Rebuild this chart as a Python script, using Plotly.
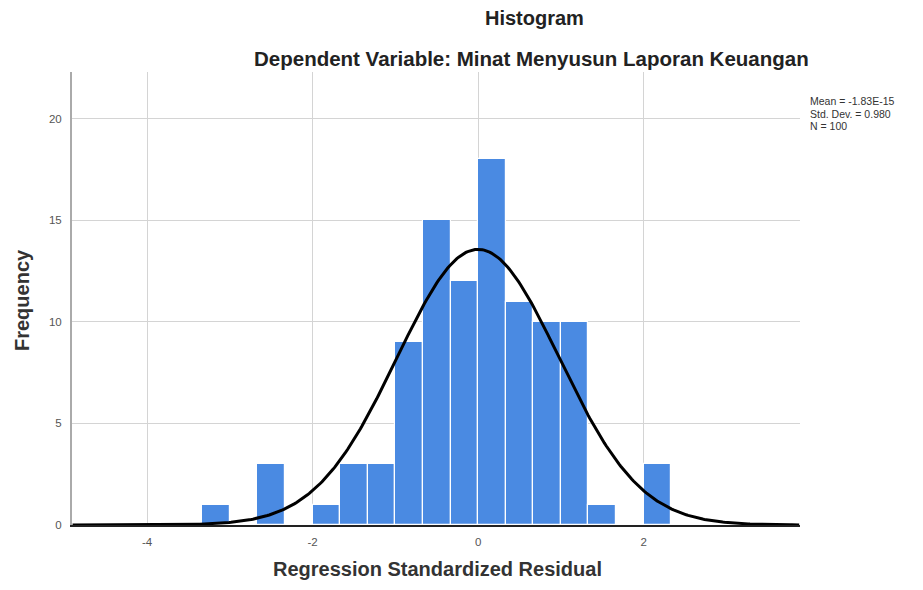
import numpy as np
import plotly.graph_objects as go

bin_starts = [-10/3, -8/3, -2.0, -5/3, -4/3, -1.0, -2/3, -1/3, 0.0, 1/3, 2/3, 1.0, 4/3, 2.0]
frequencies = [1, 3, 1, 3, 3, 9, 15, 12, 18, 11, 10, 10, 1, 3]
bin_width = 1/3
mean_val = -1.83e-15
std_dev = 0.980
n_obs = 100
stats_lines = ['Mean = -1.83E-15', f'Std. Dev. = {std_dev:.3f}', f'N = {n_obs}']

x_centers = [b + bin_width/2 for b in bin_starts]

xs = np.linspace(-4.9, 3.88, 400)
ys = n_obs * bin_width / (std_dev * np.sqrt(2*np.pi)) * np.exp(-0.5*((xs-mean_val)/std_dev)**2)

# page offset (body margin) = 8px
W, H = 907, 574
L, R, T, B = 64, 115, 64, 57

fig = go.Figure()
fig.add_trace(go.Bar(x=x_centers, y=frequencies, width=bin_width,
                     marker=dict(color='#4a8ae2', line=dict(color='white', width=1.2)),
                     showlegend=False))
fig.add_trace(go.Scatter(x=xs, y=ys, mode='lines', line=dict(color='black', width=3),
                         showlegend=False))

font = "Liberation Sans, Arial, sans-serif"
fig.update_layout(
    width=W, height=H,
    margin=dict(l=L, r=R, t=T, b=B),
    plot_bgcolor='white', paper_bgcolor='white',
    bargap=0,
    font=dict(family=font),
    xaxis=dict(range=[-4.907, 3.89], tickvals=[-4, -2, 0, 2], ticktext=['-4', '-2', '0', '2'],
               showgrid=True, gridcolor='#d4d4d4', gridwidth=1, zeroline=False,
               showline=True, linecolor='#222222', linewidth=2, automargin=False,
               ticks='', ticklabelstandoff=5, tickfont=dict(size=11.5, color='#555555')),
    yaxis=dict(range=[0, 22.3], tickvals=[0, 5, 10, 15, 20],
               showgrid=True, gridcolor='#d4d4d4', gridwidth=1, zeroline=False,
               showline=True, linecolor='#aaaaaa', linewidth=2, automargin=False,
               ticks='', ticklabelstandoff=6, tickfont=dict(size=11.5, color='#555555')),
)
pw = W - L - R
ph = H - T - B
def px(x): return (x - 8 - L) / pw
def py(y): return (H - B - (y - 8)) / ph

fig.add_annotation(text='<b>Histogram</b>', x=px(534), y=py(18), xref='paper', yref='paper',
                   showarrow=False, yanchor='middle', font=dict(size=20, color='#222222'))
fig.add_annotation(text='<b>Dependent Variable: Minat Menyusun Laporan Keuangan</b>', x=px(531), y=py(58),
                   xref='paper', yref='paper', showarrow=False, yanchor='middle',
                   font=dict(size=20.5, color='#222222'))
fig.add_annotation(text='<b>Regression Standardized Residual</b>', x=px(437), y=py(581),
                   xref='paper', yref='paper', showarrow=False, yanchor='bottom', borderpad=0,
                   font=dict(size=20, color='#333333'))
fig.add_annotation(text='<b>Frequency</b>', x=px(22), y=py(300), textangle=-90,
                   xref='paper', yref='paper', showarrow=False, xanchor='center', yanchor='middle',
                   font=dict(size=20, color='#333333'))
for i, s in enumerate(stats_lines):
    fig.add_annotation(text=s, x=px(809), y=py(101 + 12.5*i), xref='paper', yref='paper',
                       showarrow=False, xanchor='left', yanchor='middle', align='left', borderpad=0,
                       font=dict(size=10.5, color='#333333'))

fig.write_html("out.html")
